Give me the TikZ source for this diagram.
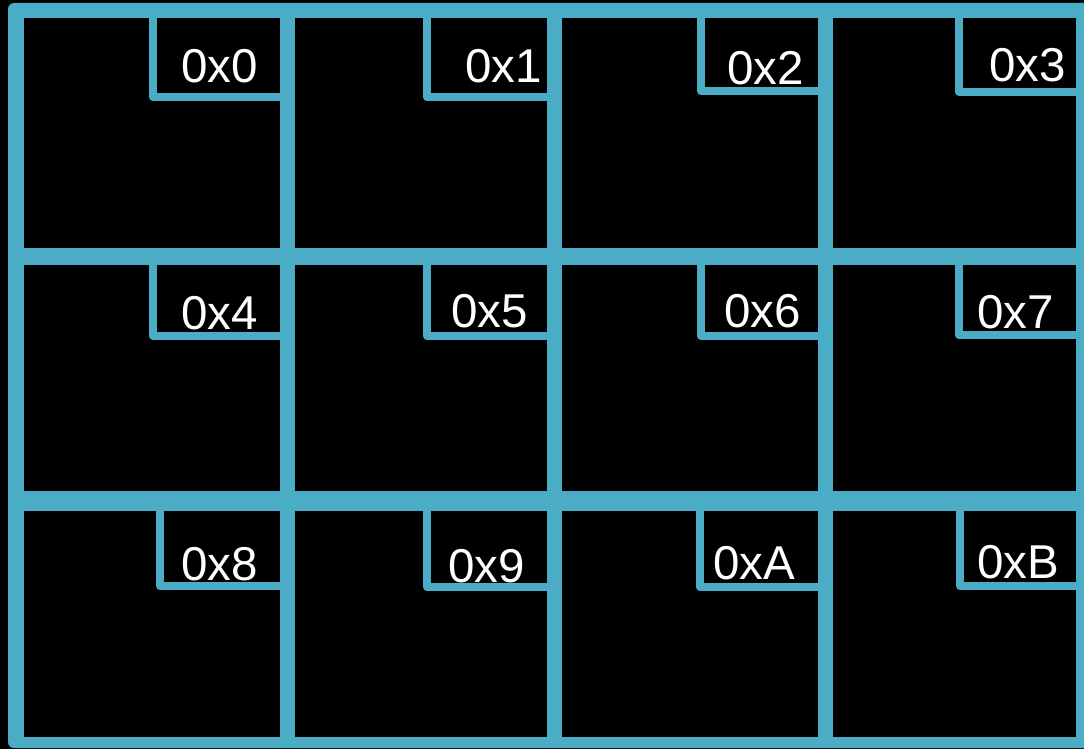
\documentclass[tikz,border=0pt]{standalone}
\usepackage{fontspec}
\setmainfont{Liberation Sans}
\definecolor{teal}{RGB}{75,172,198}
\begin{document}
\begin{tikzpicture}[x=1pt,y=-1pt,
  cell/.style={rectangle,fill=black,draw=none,inner sep=0pt,outer sep=0pt,anchor=north west},
  lbl/.style={draw=teal,line width=8pt,line join=round},
  txt/.style={text=white,inner sep=0pt,anchor=base west,font=\fontsize{47.5}{50}\selectfont}]
\useasboundingbox (0,0) rectangle (1084,749);
\clip (0,0) rectangle (1084,749);
\fill[black] (0,0) rectangle (1084,749);
\fill[teal,rounded corners=6pt] (8,3) rectangle (1110,748);
% cells
\foreach \n/\x/\w/\y/\h in {
  c0/24/256/18/230, c1/295/252/18/230, c2/562/256/18/230, c3/833/243/18/230,
  c4/24/256/265/226, c5/295/252/265/226, c6/562/256/265/226, c7/833/243/265/226,
  c8/24/256/511/226, c9/295/252/511/226, cA/562/256/511/226, cB/833/243/511/226}
  \node[cell,minimum width=\w pt,minimum height=\h pt] (\n) at (\x,\y) {};
% label boxes
\foreach \n/\lx/\by in {
  c0/153/97, c1/427/97, c2/701/91, c3/959/92,
  c4/153/336, c5/427/336, c6/701/336, c7/959/335,
  c8/160/586, c9/427/587, cA/700/587, cB/960/586}
  \draw[lbl] (\n.north west -| \lx,0) -- (\lx,\by) -- (\n.east |- 0,\by);
% texts
\node[txt] (t0) at (181,83) {0x0};
\node[txt] (t1) at (465,83) {0x1};
\node[txt] (t2) at (727,85) {0x2};
\node[txt] (t3) at (989,82) {0x3};
\node[txt] (t4) at (181,329) {0x4};
\node[txt] (t5) at (451,327) {0x5};
\node[txt] (t6) at (724,327) {0x6};
\node[txt] (t7) at (977,328) {0x7};
\node[txt] (t8) at (181,580) {0x8};
\node[txt] (t9) at (448,582) {0x9};
\node[txt] (tA) at (713,579) {0xA};
\node[txt] (tB) at (977,578) {0xB};
\end{tikzpicture}
\end{document}
